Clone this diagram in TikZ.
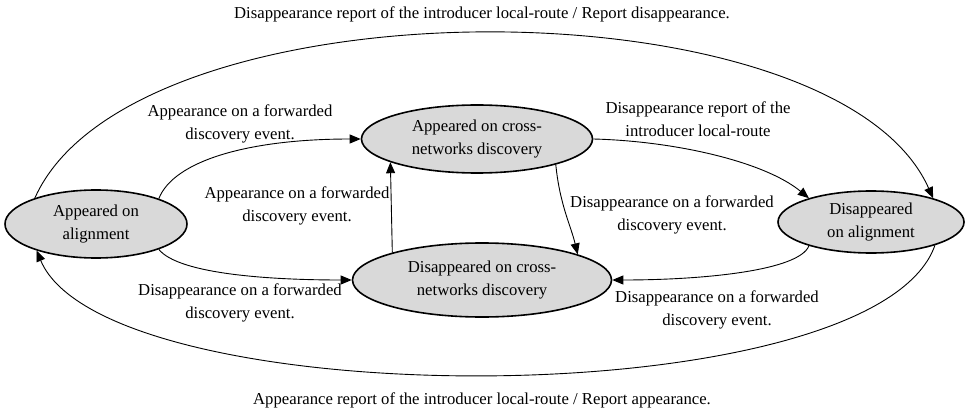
\documentclass[tikz,border=0pt]{standalone}
\usepackage{fontspec}
\setmainfont{Liberation Serif}
\usetikzlibrary{arrows.meta,shapes.geometric}
\definecolor{stategray}{HTML}{D9D9D9}
\newcommand{\diagfont}{\fontsize{16.7}{22.5}\selectfont}
\begin{document}
\begin{tikzpicture}[x=1pt,y=-1pt,
  state/.style={ellipse, draw=black, line width=1.6pt, fill=stategray,
    inner sep=0pt, align=center, font=\diagfont},
  lbl/.style={inner sep=0pt, align=center, font=\diagfont},
  conn/.style={draw=black, line width=0.9pt,
    -{Triangle[length=11pt,width=9pt]}}
]
\useasboundingbox (0,0) rectangle (965,414);

% states
\node[state, minimum width=182pt, minimum height=68pt] (L) at (96,224) {Appeared on\\alignment};
\node[state, minimum width=231pt, minimum height=68pt] (T) at (477,139) {Appeared on cross-\\networks discovery};
\node[state, minimum width=259pt, minimum height=74pt] (B) at (482,280) {Disappeared on cross-\\networks discovery};
\node[state, minimum width=186pt, minimum height=62pt] (R) at (871,222) {Disappeared\\on alignment};

% transitions
\draw[conn] (L.157) .. controls +(98,-220) and +(-98,-220) .. (R.21);
\draw[conn] (R.-20.5) .. controls +(-60,172) and +(70,166) .. (L.204.7);
\draw[conn] (L.22) .. controls +(15,-38) and +(-112,0) .. (T.180);
\draw[conn] (L.-22) .. controls +(20,25) and +(-80,0) .. (B.180);
\draw[conn] (B.163.2) -- (T.195.3);
\draw[conn] (T.-18) .. controls +(4,40) and +(-7,-29) .. (B.15.4);
\draw[conn] (T.0) .. controls +(80,2) and +(-45,-37) .. (R.159.3);
\draw[conn] (R.201.3) .. controls +(-10,25) and +(90,0) .. (B.0);

% transition labels
\node[lbl] (ttop) at (482,14) {Disappearance report of the introducer local-route / Report disappearance.};
\node[lbl] (tbot) at (482,400) {Appearance report of the introducer local-route / Report appearance.};
\node[lbl] (la) at (240,124) {Appearance on a forwarded\\discovery event.};
\node[lbl] (lb) at (297,206) {Appearance on a forwarded\\discovery event.};
\node[lbl] (lc) at (240,303) {Disappearance on a forwarded\\discovery event.};
\node[lbl] (ld) at (698,119) {Disappearance report of the\\introducer local-route};
\node[lbl] (le) at (672,215) {Disappearance on a forwarded\\discovery event.};
\node[lbl] (lf) at (717,310) {Disappearance on a forwarded\\discovery event.};
\end{tikzpicture}
\end{document}
